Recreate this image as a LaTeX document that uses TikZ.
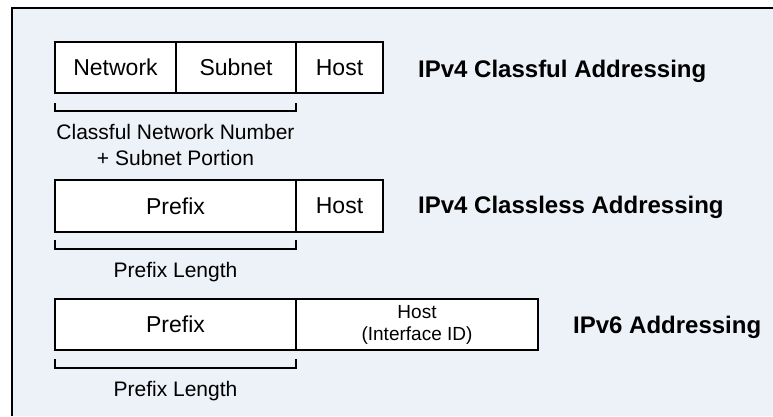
\documentclass[tikz,border=0pt]{standalone}
\usepackage{fontspec}
\setmainfont{Liberation Sans}
\usetikzlibrary{calc}

\begin{document}
\begin{tikzpicture}[x=1pt,y=-1pt,
  cell/.style={draw,fill=white,line width=1.5pt,inner sep=0pt,outer sep=0pt,anchor=north west,minimum height=51pt,font=\fontsize{23}{27}\selectfont},
  brace/.style={line width=1.5pt},
  note/.style={anchor=base,inner sep=0pt,align=center,font=\fontsize{21}{26}\selectfont},
  title/.style={anchor=base west,inner sep=0pt,font=\bfseries\fontsize{24}{28}\selectfont}]
\useasboundingbox (0,0) rectangle (773,416);
\fill[fill={rgb,255:red,237;green,241;blue,248}] (12,8) rectangle (773,416);
\draw[line width=2pt] (12,416) -- (12,8) -- (773,8);

% IPv4 classful
\node[cell,minimum width=121pt] (net1) at (55,42) {Network};
\node[cell,minimum width=120pt] (sub1) at (net1.north east) {Subnet};
\node[cell,minimum width=87pt] (host1) at (sub1.north east) {Host};
\coordinate (b1l) at ($(net1.south west)+(0,10)$);
\coordinate (b1r) at ($(sub1.south east)+(0,10)$);
\draw[brace] (b1l) -- ++(0,8) -| (b1r);
\node[note] (len1) at (175.5,165) {Classful Network Number\\+ Subnet Portion};
\node[title] (title1) at (418,77) {IPv4 Classful Addressing};

% IPv4 classless
\node[cell,minimum width=241pt,minimum height=52pt] (pre2) at (55,180) {Prefix};
\node[cell,minimum width=87pt,minimum height=52pt] (host2) at (pre2.north east) {Host};
\coordinate (b2l) at ($(pre2.south west)+(0,8)$);
\coordinate (b2r) at ($(pre2.south east)+(0,8)$);
\draw[brace] (b2l) -- ++(0,9) -| (b2r);
\node[note] (len2) at (175.5,277) {Prefix Length};
\node[title] (title2) at (418,213) {IPv4 Classless Addressing};

% IPv6
\node[cell,minimum width=241pt] (pre3) at (55,299) {Prefix};
\node[cell,minimum width=242pt,align=center,font=\fontsize{19}{22}\selectfont] (host3) at (pre3.north east) {Host\\(Interface ID)};
\coordinate (b3l) at ($(pre3.south west)+(0,9)$);
\coordinate (b3r) at ($(pre3.south east)+(0,9)$);
\draw[brace] (b3l) -- ++(0,9) -| (b3r);
\node[note] (len3) at (175.5,396) {Prefix Length};
\node[title] (title3) at (573,333) {IPv6 Addressing};
\end{tikzpicture}
\end{document}
